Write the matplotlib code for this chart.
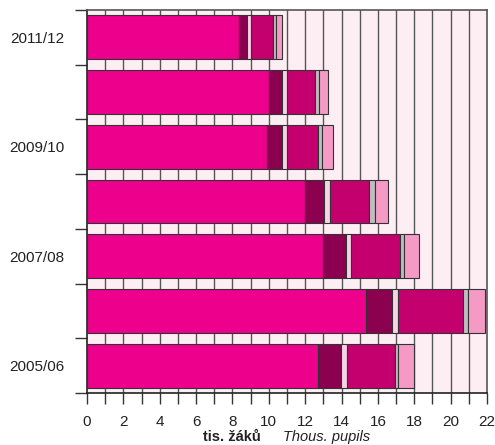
import matplotlib
matplotlib.use("Agg")
import matplotlib.pyplot as plt
import numpy as np

plt.rcParams["font.family"] = ["Liberation Sans", "DejaVu Sans"]

# school years, bottom to top
years = ["2005/06", "2006/07", "2007/08", "2008/09", "2009/10", "2010/11", "2011/12"]
year_labels = ["2005/06", "", "2007/08", "", "2009/10", "", "2011/12"]

# segment widths (thous. pupils), bottom to top
seg1 = [12.69, 15.34, 13.00, 11.99, 9.89, 10.01, 8.35]
seg2 = [1.26, 1.41, 1.24, 1.04, 0.86, 0.72, 0.46]
seg3 = [0.33, 0.38, 0.30, 0.32, 0.27, 0.27, 0.20]
seg4 = [2.65, 3.54, 2.67, 2.16, 1.67, 1.54, 1.22]
seg5 = [0.15, 0.27, 0.25, 0.33, 0.25, 0.20, 0.17]
seg6 = [0.92, 0.94, 0.81, 0.73, 0.61, 0.51, 0.33]

segments = [seg1, seg2, seg3, seg4, seg5, seg6]
colors = ["#EC008C", "#8C0050", "#F8D3E6", "#C4006F", "#BEBEBE", "#F49AC4"]

fig = plt.figure(figsize=(4.95, 4.45), dpi=100)
ax = fig.add_axes([0.1758, 0.1169, 0.808, 0.8606])
ax.set_facecolor("#FDEEF4")

y = np.arange(len(years))
left = np.zeros(len(years))
for vals, c in zip(segments, colors):
    ax.barh(y, vals, left=left, height=0.8, color=c, edgecolor="#333333",
            linewidth=0.8, zorder=3)
    left += np.array(vals)

# vertical grid at every unit
for xv in range(1, 22):
    ax.axvline(xv, color="#555555", linewidth=1.0, zorder=1)

ax.set_xlim(0, 22)
ax.set_ylim(-0.5, 6.5)

ax.set_xticks(np.arange(0, 23, 2))
ax.set_xticks(np.arange(1, 22, 2), minor=True)
ax.tick_params(axis="x", which="both", direction="out", length=8, width=1,
               color="#333333", labelsize=11, pad=8, labelcolor="#222222",
               top=False, labeltop=False)

ax.set_yticks(y)
ax.set_yticklabels(year_labels)
ax.set_yticks(np.arange(-0.5, 7, 1), minor=True)
ax.tick_params(axis="y", which="major", length=0, pad=16, labelsize=11,
               labelcolor="#222222")
ax.tick_params(axis="y", which="minor", length=9, width=1, color="#333333")
ax.tick_params(axis="y", which="both", right=False, labelright=False)

for s in ax.spines.values():
    s.set_color("#222222")
    s.set_linewidth(1.2)
ax.spines["top"].set_color("#555555")
ax.spines["right"].set_color("#555555")

fig.text(0.527, 0.018, "tis. žáků", fontsize=10.5, fontweight="bold",
         ha="right", va="center", color="#222222")
fig.text(0.572, 0.018, "Thous. pupils", fontsize=10.5, style="italic",
         ha="left", va="center", color="#222222")

fig.savefig("out.png", dpi=100)
